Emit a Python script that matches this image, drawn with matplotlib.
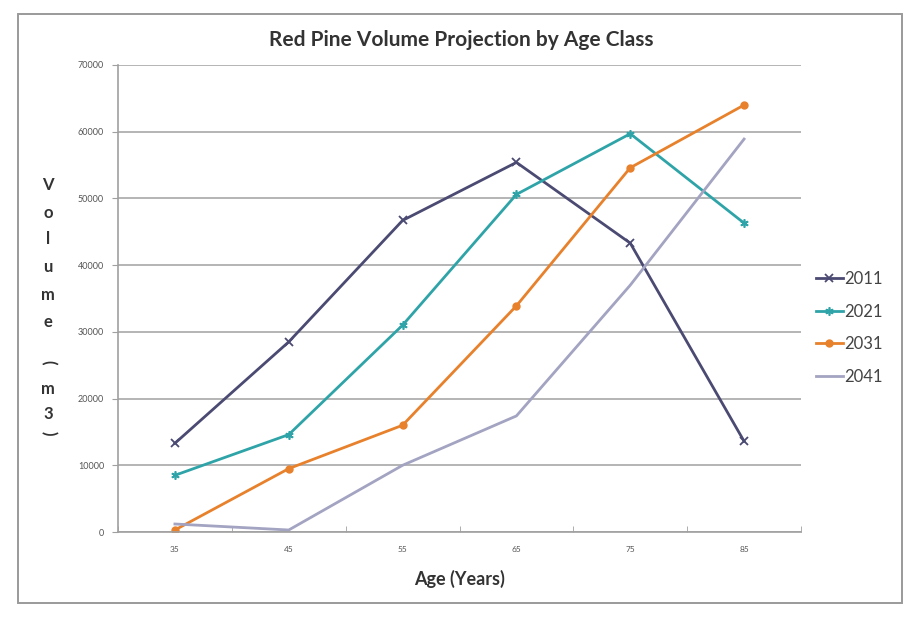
import matplotlib
matplotlib.use("Agg")
import matplotlib.pyplot as plt
from matplotlib.patches import Rectangle

# Age classes and projected red pine volume (m3) for each projection year
age_classes = ["35", "45", "55", "65", "75", "85"]
vol_2011 = [13300, 28500, 46700, 55400, 43300, 13600]
vol_2021 = [8500, 14600, 31000, 50600, 59700, 46300]
vol_2031 = [300, 9500, 16000, 33900, 54600, 64000]
vol_2041 = [1200, 300, 10000, 17400, 37000, 58900]
series_names = ["2011", "2021", "2031", "2041"]
y_ticks = [0, 10000, 20000, 30000, 40000, 50000, 60000, 70000]

plt.rcParams["font.family"] = ["Lato", "DejaVu Sans"]

W, H = 909, 624
fig = plt.figure(figsize=(W / 100, H / 100), dpi=100)
fig.patch.set_facecolor("white")

# outer chart frame
fig.patches.append(Rectangle((18 / W, 1 - 603 / H), (902 - 18) / W, (603 - 14) / H,
                             transform=fig.transFigure, fill=False,
                             edgecolor="#9a9a9a", linewidth=1.4))

ax = fig.add_axes([118 / W, 1 - 532 / H, (801 - 118) / W, (532 - 65) / H])
x = list(range(len(age_classes)))

styles = [
    dict(color="#4b4a72", marker="x", markersize=6, markeredgewidth=1.3),
    dict(color="#2fa4a8", marker=(6, 2, 0), markersize=6, markeredgewidth=1.2),
    dict(color="#e8812c", marker="o", markersize=5),
    dict(color="#a3a3c2", marker=None),
]
for vals, name, st in zip([vol_2011, vol_2021, vol_2031, vol_2041], series_names, styles):
    ax.plot(x, vals, linewidth=2, label=name, **st)

ax.set_xlim(-0.5, len(age_classes) - 0.5)
ax.set_ylim(0, 70000)
ax.set_yticks(y_ticks)
ax.set_yticklabels([str(v) for v in y_ticks])
ax.set_xticks(x)
ax.set_xticklabels(age_classes)
ax.set_xticks([i + 0.5 for i in range(-1, len(age_classes))], minor=True)
ax.tick_params(axis="x", which="major", length=0, labelsize=6, colors="#555555", pad=10)
ax.tick_params(axis="x", which="minor", length=4, color="#a0a0a0", direction="in")
ax.tick_params(axis="y", length=4, color="#a0a0a0", labelsize=6.5, labelcolor="#555555", pad=6)

ax.grid(axis="y", color="#a8a8a8", linewidth=1.2)
ax.set_axisbelow(True)
for side in ["top", "right"]:
    ax.spines[side].set_visible(False)
ax.spines["left"].set_color("#a0a0a0")
ax.spines["bottom"].set_color("#a0a0a0")
ax.spines["left"].set_linewidth(1.2)
ax.spines["bottom"].set_linewidth(1.2)

ax.set_xlabel("Age (Years)", fontsize=13, fontweight="bold", color="#333333", labelpad=12)
fig.text(461 / W, 1 - 40 / H, "Red Pine Volume Projection by Age Class",
         ha="center", va="center", fontsize=15, fontweight="bold", color="#333333")

# stacked vertical axis title
letters = [("V", 185, 0), ("o", 213, 0), ("l", 239, 0), ("u", 267, 0), ("m", 295, 0),
           ("e", 322, 0), ("(", 362, -90), ("m", 389, 0), ("3", 414, 0), (")", 433, -90)]
for ch, yy, rot in letters:
    fig.text(48 / W, 1 - yy / H, ch, ha="center", va="center", fontsize=12,
             fontweight="bold", color="#333333", rotation=rot)

leg = ax.legend(loc="center left", bbox_to_anchor=(1.0, 0.437),
                frameon=False, fontsize=12, handlelength=1.6, handletextpad=0.1,
                labelspacing=1.0, labelcolor="#444444", borderaxespad=0.5)

fig.savefig("out.png", dpi=100, facecolor="white")
